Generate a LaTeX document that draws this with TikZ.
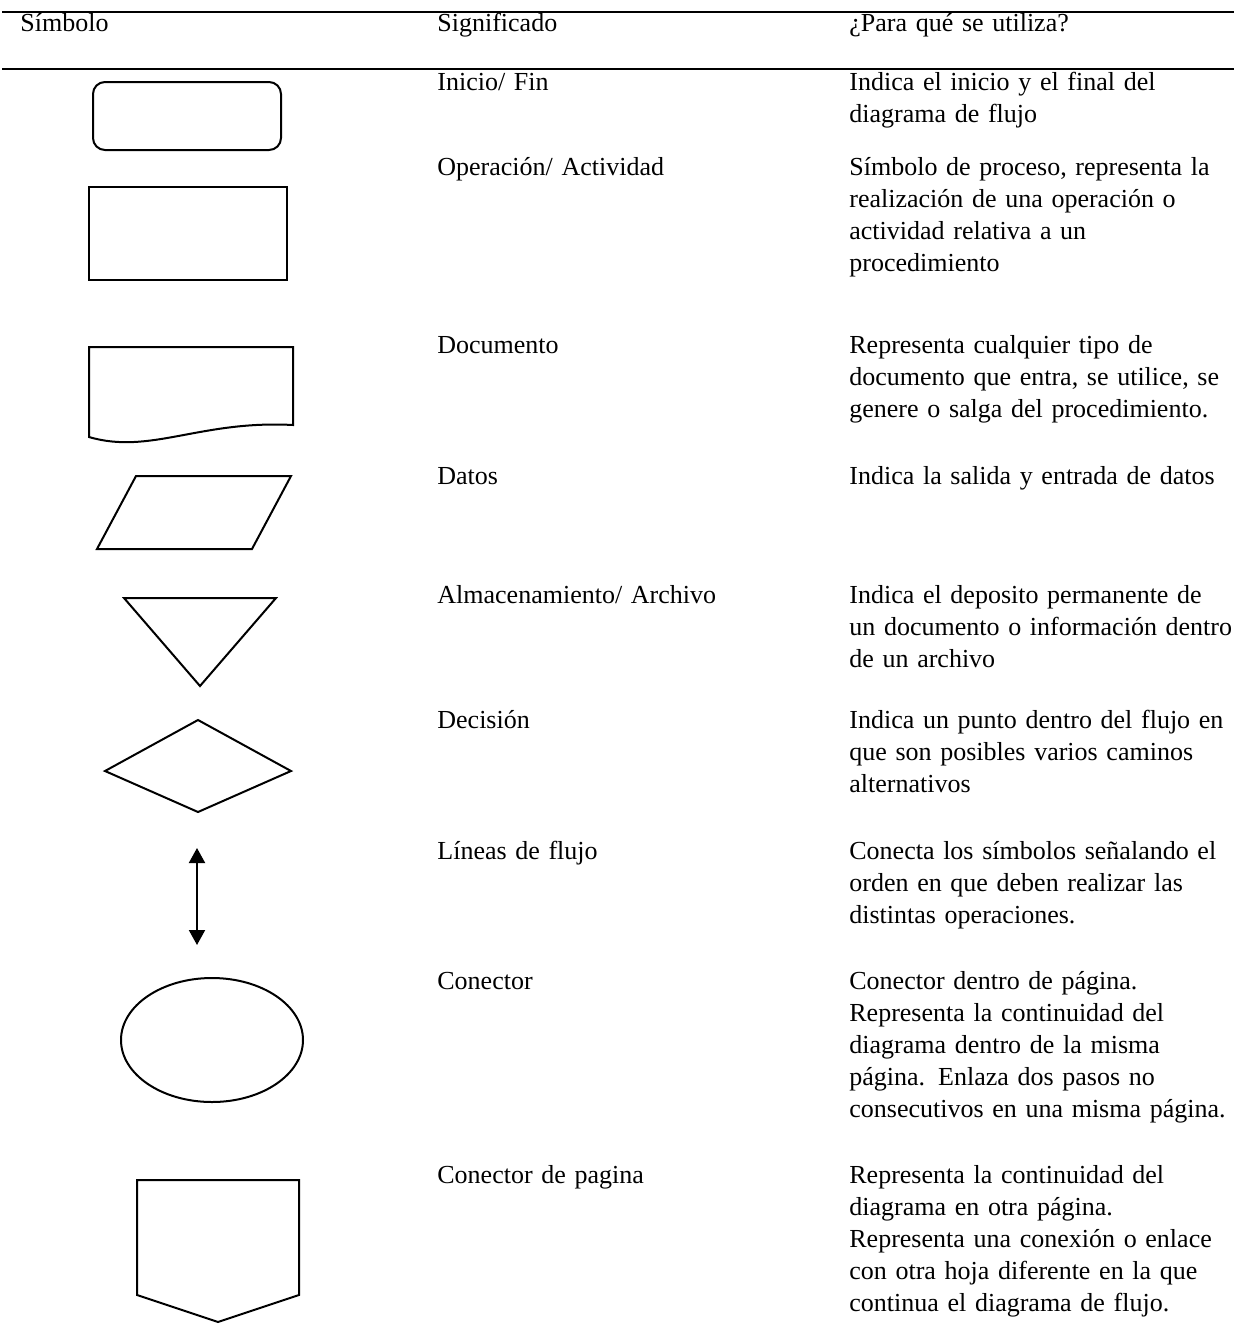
\documentclass[tikz,border=0pt]{standalone}
\usepackage{fontspec}
\setmainfont{Liberation Serif}
\usetikzlibrary{arrows.meta}

\begin{document}
\begin{tikzpicture}[x=0.5pt,y=-0.5pt,
    txt/.style={anchor=base west,inner sep=0pt,align=left,text width=210pt,
      font=\fontsize{13}{16}\selectfont},
    simbolo/.style={draw,line width=1pt},
    regla/.style={line width=1.2pt},
    flecha/.style={line width=1pt,{Triangle[width=8pt,length=7.5pt]}-{Triangle[width=8pt,length=7.5pt]}}]
  \useasboundingbox (0,0) rectangle (1234,1324);

  \draw[regla] (2,12) -- (1234,12);
  \draw[regla] (2,69) -- (1234,69);

  \path
  (20,31) node[txt](hsimb) {Símbolo}
  (437,31) node[txt](hsign) {Significado}
  (849,31) node[txt](huso) {¿Para qué se utiliza?}
  ;

  \path
  (437,90) node[txt](sigini) {Inicio/ Fin}
  (849,90) node[txt](usoini) {Indica el inicio y el final del\\diagrama de flujo}
  (437,175) node[txt](sigope) {Operación/ Actividad}
  (849,175) node[txt](usoope) {Símbolo de proceso, representa la\\realización de una operación o\\actividad relativa a un\\procedimiento}
  (437,353) node[txt](sigdoc) {Documento}
  (849,353) node[txt](usodoc) {Representa cualquier tipo de\\documento que entra, se utilice, se\\genere o salga del procedimiento.}
  (437,484) node[txt](sigdat) {Datos}
  (849,484) node[txt](usodat) {Indica la salida y entrada de datos}
  (437,603) node[txt](sigalm) {Almacenamiento/ Archivo}
  (849,603) node[txt](usoalm) {Indica el deposito permanente de\\un documento o información dentro\\de un archivo}
  (437,728) node[txt](sigdec) {Decisión}
  (849,728) node[txt](usodec) {Indica un punto dentro del flujo en\\que son posibles varios caminos\\alternativos}
  (437,859) node[txt](siglin) {Líneas de flujo}
  (849,859) node[txt](usolin) {Conecta los símbolos señalando el\\orden en que deben realizar las\\distintas operaciones.}
  (437,989) node[txt](sigcon) {Conector}
  (849,989) node[txt](usocon) {Conector dentro de página.\\Representa la continuidad del\\diagrama dentro de la misma\\página. Enlaza dos pasos no\\consecutivos en una misma página.}
  (437,1183) node[txt](sigpag) {Conector de pagina}
  (849,1183) node[txt](usopag) {Representa la continuidad del\\diagrama en otra página.\\Representa una conexión o enlace\\con otra hoja diferente en la que\\continua el diagrama de flujo.}
  ;

  \draw[simbolo,rounded corners=6pt] (93,82) rectangle (281,150);
  \draw[simbolo] (89,187) rectangle (287,280);
  \draw[simbolo] (89,347) -- (293,347) -- (293,425)
    .. controls (200,420) and (150,455) .. (89,437) -- cycle;
  \draw[simbolo] (136,476) -- (291,476) -- (252,549) -- (97,549) -- cycle;
  \draw[simbolo] (124,598) -- (276,598) -- (200,686) -- cycle;
  \draw[simbolo] (198,720) -- (291,771) -- (198,812) -- (105,771) -- cycle;

  \coordinate (lintop) at (197,848);
  \coordinate (linbot) at (197,945);
  \draw[flecha] (lintop) -- (linbot);

  \draw[simbolo] (212,1040) ellipse [x radius=91,y radius=62];
  \draw[simbolo] (137,1180) -- (299,1180) -- (299,1295) -- (218,1322) -- (137,1295) -- cycle;
\end{tikzpicture}
\end{document}
